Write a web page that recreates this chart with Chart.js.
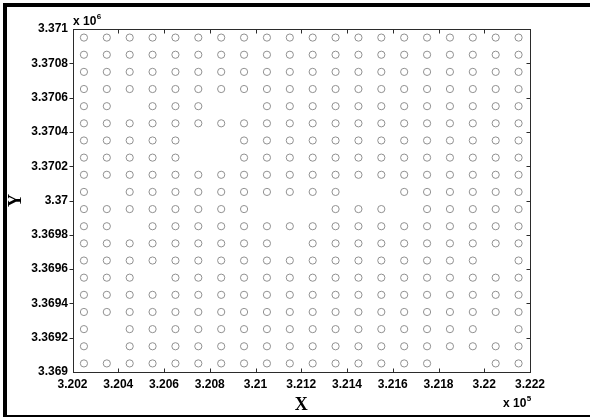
<!DOCTYPE html>
<html>
<head>
<meta charset="utf-8">
<script src="https://cdn.jsdelivr.net/npm/chart.js@4.4.1/dist/chart.umd.min.js"></script>
<style>
  html, body { margin: 0; padding: 0; background: #fff; }
  #wrap { position: relative; width: 590px; height: 419px; overflow: hidden; }
  #frame { position: absolute; left: 3px; top: 3px; width: 587px; height: 414px;
           border-top: 4px solid #000; border-left: 4px solid #000; border-bottom: 2px solid #000;
           box-sizing: border-box; pointer-events: none; }
</style>
</head>
<body>
<div id="wrap">
  <canvas id="c" width="590" height="419"></canvas>
  <div id="frame"></div>
</div>
<script>
// Column x positions (m) and row y positions (m), top row first
const xCols = [320250, 320350, 320450, 320550, 320650, 320750, 320850, 320950, 321050, 321150,
               321250, 321350, 321450, 321550, 321650, 321750, 321850, 321950, 322050, 322150];
const yRows = [3370950, 3370850, 3370750, 3370650, 3370550, 3370450, 3370350, 3370250, 3370150, 3370050,
               3369950, 3369850, 3369750, 3369650, 3369550, 3369450, 3369350, 3369250, 3369150, 3369050];
// Presence mask per row ('o' = point present, '.' = gap)
const rowMask = [
  "oooooooooooooooooooo",
  "oooooooooooooooooooo",
  "oooooooooooooooooooo",
  "oooooooooooooooooooo",
  "oo.ooo..oooooooooooo",
  "oooooooooooooooooooo",
  "ooooo..ooooooooooooo",
  "ooooo..ooooooooooooo",
  "oooooooooooooooooooo",
  "o.oooooooooo..oooooo",
  "oooooooo...ooo.ooooo",
  "oo.ooooooooooooooooo",
  "ooooooooo.oooooooooo",
  "oooooooooooooooooo.o",
  "ooo.oooooooooooooooo",
  "oooooooooooooooooooo",
  "oooooooooooooooooooo",
  "o.oooooooooooooooo.o",
  "o.oooooooooooooooooo",
  "oooooooooooooooo..oo"
];
const xTickLabels = ["3.202","3.204","3.206","3.208","3.21","3.212","3.214","3.216","3.218","3.22","3.222"];
const yTickLabels = ["3.369","3.3692","3.3694","3.3696","3.3698","3.37","3.3702","3.3704","3.3706","3.3708","3.371"];
const xMin = 320200, xMax = 322200, xStep = 200;
const yMin = 3369000, yMax = 3371000, yStep = 200;
const xExponent = "5", yExponent = "6";

const points = [];
yRows.forEach((y, r) => {
  xCols.forEach((x, c) => {
    if (rowMask[r][c] === 'o') points.push({x: x, y: y});
  });
});

const tickFont = {family: '"Liberation Sans", Arial, sans-serif', size: 12, weight: 'bold'};
const titleFont = {family: '"Liberation Serif", "Times New Roman", serif', size: 18, weight: 'bold'};

const boxPlugin = {
  id: 'box',
  afterDraw(chart) {
    const ctx = chart.ctx;
    const a = chart.chartArea;
    const L = Math.round(a.left) + 0.5, R = Math.round(a.right) + 0.5;
    const T = Math.round(a.top) + 0.5, B = Math.round(a.bottom) + 0.5;
    ctx.save();
    ctx.strokeStyle = '#2b2b2b';
    ctx.lineWidth = 1;
    ctx.strokeRect(L, T, R - L, B - T);
    const tl = 4;
    ctx.beginPath();
    const xs = chart.scales.x, ys = chart.scales.y;
    xs.ticks.forEach((t, i) => {
      if (i === 0 || i === xs.ticks.length - 1) return;
      const px = Math.round(xs.getPixelForValue(t.value)) + 0.5;
      ctx.moveTo(px, B); ctx.lineTo(px, B - tl);
      ctx.moveTo(px, T); ctx.lineTo(px, T + tl);
    });
    ys.ticks.forEach((t, i) => {
      if (i === 0 || i === ys.ticks.length - 1) return;
      const py = Math.round(ys.getPixelForValue(t.value)) + 0.5;
      ctx.moveTo(L, py); ctx.lineTo(L - tl, py);
      ctx.moveTo(R, py); ctx.lineTo(R - tl, py);
    });
    ctx.stroke();
    // exponent labels
    ctx.fillStyle = '#000';
    ctx.textBaseline = 'alphabetic';
    ctx.textAlign = 'left';
    ctx.font = 'bold 12px "Liberation Sans", Arial, sans-serif';
    const base = 'x 10';
    const w = ctx.measureText(base).width;
    ctx.fillText(base, 73, 25);
    ctx.fillText(base, 503, 407);
    ctx.font = 'bold 8px "Liberation Sans", Arial, sans-serif';
    ctx.fillText(yExponent, 73 + w + 0.5, 19);
    ctx.fillText(xExponent, 503 + w + 0.5, 401);
    ctx.restore();
  }
};

new Chart(document.getElementById('c'), {
  type: 'scatter',
  data: {
    datasets: [{
      data: points,
      pointStyle: 'circle',
      pointRadius: 3.6,
      pointHoverRadius: 3.6,
      borderColor: '#909090',
      backgroundColor: 'rgba(0,0,0,0)',
      borderWidth: 1
    }]
  },
  options: {
    responsive: false,
    animation: false,
    events: [],
    layout: {padding: {left: 0, right: 60, top: 29, bottom: 0}},
    plugins: {legend: {display: false}, tooltip: {enabled: false}},
    scales: {
      x: {
        type: 'linear',
        min: xMin, max: xMax,
        grid: {display: false, drawTicks: false},
        border: {display: false},
        ticks: {
          stepSize: xStep,
          color: '#000',
          font: tickFont,
          padding: 5,
          maxRotation: 0,
          autoSkip: false,
          callback: (v, i) => xTickLabels[i]
        },
        title: {display: true, text: 'X', color: '#000', font: titleFont, padding: {top: 0, bottom: 3}},
        afterFit: s => { s.height = 47; }
      },
      y: {
        type: 'linear',
        min: yMin, max: yMax,
        grid: {display: false, drawTicks: false},
        border: {display: false},
        ticks: {
          stepSize: yStep,
          color: '#000',
          font: tickFont,
          padding: 4.5,
          autoSkip: false,
          callback: (v, i) => yTickLabels[i]
        },
        title: {display: true, text: 'Y', color: '#000', font: titleFont, padding: {top: 6, bottom: 0}},
        afterFit: s => { s.width = 72.5; }
      }
    }
  },
  plugins: [boxPlugin]
});
</script>
</body>
</html>
